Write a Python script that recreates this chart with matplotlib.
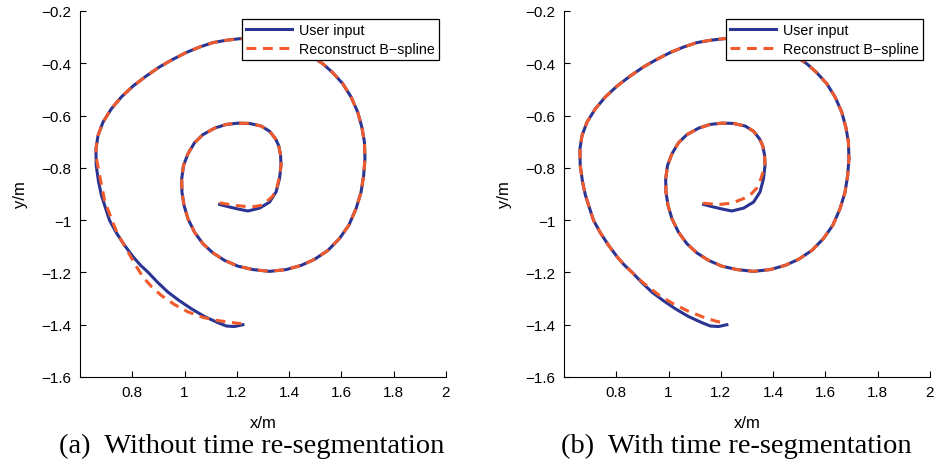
import numpy as np
from matplotlib import pyplot as plt

# user input trajectory (same in both panels), inner end -> outer end
user_x = [1.134, 1.165, 1.198, 1.242, 1.287, 1.325, 1.350, 1.363, 1.369, 1.367,
          1.360, 1.348, 1.325, 1.293, 1.248, 1.204, 1.159, 1.115, 1.070, 1.038,
          1.013, 0.996, 0.989, 0.990, 0.998, 1.013, 1.038, 1.070, 1.108, 1.153,
          1.204, 1.261, 1.325, 1.389, 1.446, 1.497, 1.548, 1.592, 1.628, 1.656,
          1.675, 1.685, 1.690, 1.688, 1.678, 1.662, 1.637, 1.605, 1.567, 1.529,
          1.497, 1.459, 1.414, 1.363, 1.312, 1.261, 1.210, 1.159, 1.108, 1.057,
          1.006, 0.955, 0.904, 0.853, 0.803, 0.758, 0.720, 0.688, 0.669, 0.661,
          0.662, 0.671, 0.682, 0.698, 0.713, 0.740, 0.771, 0.803, 0.831, 0.860,
          0.897, 0.936, 0.980, 1.026, 1.075, 1.127, 1.160, 1.191, 1.223]
user_y = [-0.940, -0.948, -0.956, -0.965, -0.954, -0.931, -0.892, -0.842, -0.790, -0.750,
          -0.715, -0.689, -0.660, -0.640, -0.630, -0.629, -0.634, -0.648, -0.673, -0.704,
          -0.746, -0.791, -0.842, -0.893, -0.944, -0.995, -1.046, -1.090, -1.125, -1.154,
          -1.176, -1.189, -1.196, -1.189, -1.173, -1.150, -1.116, -1.071, -1.020, -0.956,
          -0.893, -0.829, -0.765, -0.701, -0.644, -0.586, -0.529, -0.478, -0.436, -0.402,
          -0.380, -0.354, -0.331, -0.315, -0.306, -0.303, -0.306, -0.312, -0.321, -0.338,
          -0.359, -0.385, -0.414, -0.449, -0.487, -0.529, -0.574, -0.625, -0.676, -0.727,
          -0.791, -0.854, -0.905, -0.955, -1.001, -1.050, -1.097, -1.140, -1.172, -1.199,
          -1.238, -1.275, -1.308, -1.339, -1.368, -1.392, -1.405, -1.407, -1.400]

# reconstructed B-spline (a): where it leaves the user input
rec_a_head_x = [1.134, 1.165, 1.198, 1.255, 1.290, 1.312, 1.337, 1.352, 1.363]
rec_a_head_y = [-0.934, -0.939, -0.944, -0.950, -0.944, -0.931, -0.908, -0.880, -0.835]
rec_a_tail_x = [0.664, 0.675, 0.694, 0.720, 0.745, 0.777, 0.808, 0.841, 0.875, 0.911,
                0.960, 1.013, 1.070, 1.127, 1.175, 1.217]
rec_a_tail_y = [-0.770, -0.829, -0.925, -0.995, -1.055, -1.109, -1.165, -1.218, -1.256, -1.288,
                -1.322, -1.351, -1.372, -1.384, -1.391, -1.396]

# reconstructed B-spline (b)
rec_b_head_x = [1.132, 1.165, 1.196, 1.230, 1.260, 1.290, 1.317, 1.337, 1.349, 1.360]
rec_b_head_y = [-0.935, -0.938, -0.940, -0.936, -0.928, -0.916, -0.899, -0.878, -0.854, -0.820]
rec_b_tail_x = [0.855, 0.885, 0.916, 0.965, 1.018, 1.075, 1.133, 1.180, 1.222]
rec_b_tail_y = [-1.195, -1.224, -1.250, -1.288, -1.320, -1.348, -1.371, -1.386, -1.396]

rec_a_x = rec_a_head_x + user_x[8:70] + rec_a_tail_x
rec_a_y = rec_a_head_y + user_y[8:70] + rec_a_tail_y
rec_b_x = rec_b_head_x + user_x[8:79] + rec_b_tail_x
rec_b_y = rec_b_head_y + user_y[8:79] + rec_b_tail_y

x_ticks = [0.8, 1.0, 1.2, 1.4, 1.6, 1.8, 2.0]
x_tick_labels = ['0.8', '1', '1.2', '1.4', '1.6', '1.8', '2']
y_ticks = [-1.6, -1.4, -1.2, -1.0, -0.8, -0.6, -0.4, -0.2]
y_tick_labels = ['\u22121.6', '\u22121.4', '\u22121.2', '\u22121', '\u22120.8',
                 '\u22120.6', '\u22120.4', '\u22120.2']
captions = ['(a)  Without time re-segmentation', '(b)  With time re-segmentation']

blue = '#2a3593'
red = '#f15a2b'
W, H = 936, 464

plt.rcParams['font.family'] = ['Liberation Sans', 'DejaVu Sans']
fig = plt.figure(figsize=(W / 100, H / 100), dpi=100)

panels = [(80, rec_a_x, rec_a_y), (564, rec_b_x, rec_b_y)]
for i, (left_px, rx, ry) in enumerate(panels):
    ax = fig.add_axes([left_px / W, (H - 378) / H, 366 / W, 366 / H])
    ax.plot(user_x, user_y, color=blue, lw=2.2, solid_joinstyle='round', label='User input')
    ax.plot(rx, ry, color=red, lw=2.2, ls=(0, (3.2, 2.2)), label='Reconstruct B\u2212spline')
    ax.set_xlim(0.6, 2.0)
    ax.set_ylim(-1.6, -0.2)
    ax.set_xticks(x_ticks)
    ax.set_xticklabels(x_tick_labels)
    ax.set_yticks(y_ticks)
    ax.set_yticklabels(y_tick_labels)
    ax.tick_params(direction='in', length=4, width=0.8, labelsize=11, pad=6)
    ax.spines['top'].set_visible(False)
    ax.spines['right'].set_visible(False)
    ax.set_xlabel('x/m', fontsize=12, labelpad=11)
    ax.set_ylabel('y/m', fontsize=12, labelpad=10)
    leg = ax.legend(loc='upper right', bbox_to_anchor=(0.981, 0.978), borderaxespad=0,
                    fancybox=False, framealpha=1, edgecolor='black', fontsize=10.3,
                    handlelength=3.2, borderpad=0.3, labelspacing=0.3, handletextpad=0.5)
    leg.get_frame().set_linewidth(0.9)
    cx = (left_px + 172) / W
    fig.text(cx, 1 - 446 / H, captions[i], ha='center', va='center',
             fontsize=20.5, family=['Liberation Serif'])

fig.savefig('out.png', dpi=100)
